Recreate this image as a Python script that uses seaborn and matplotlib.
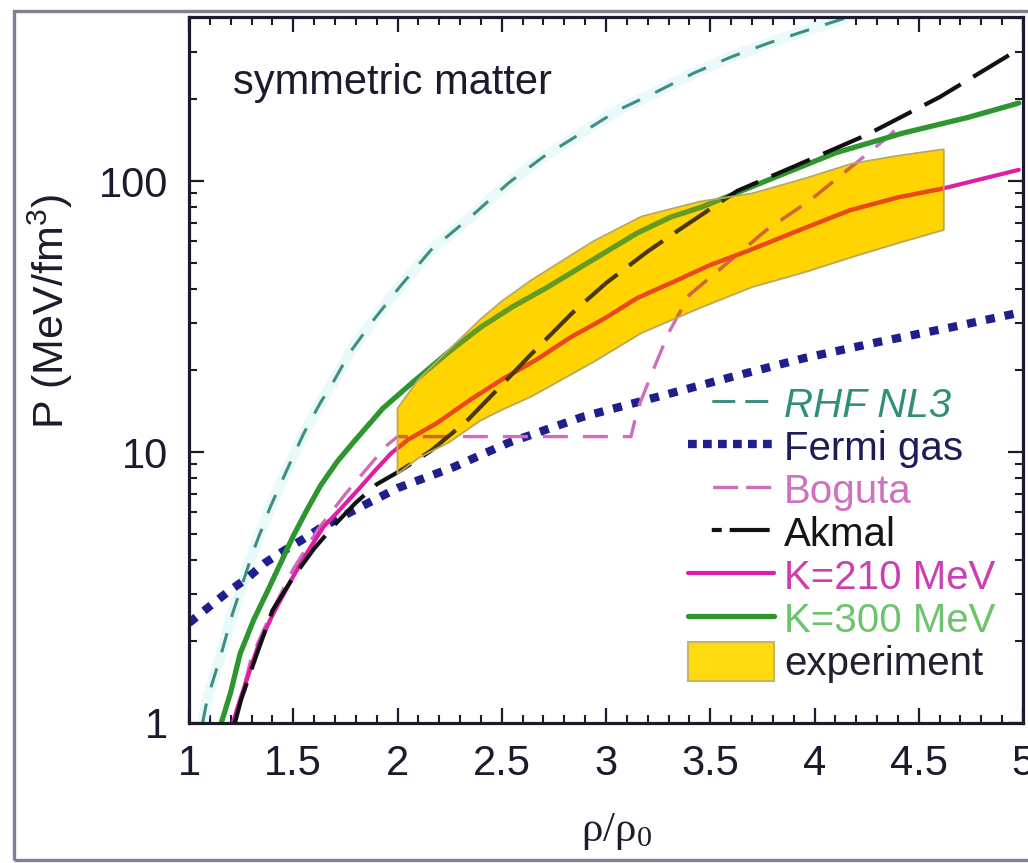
import matplotlib
matplotlib.use("Agg")
import matplotlib.pyplot as plt
import seaborn as sns
from matplotlib.lines import Line2D
from matplotlib.patches import Patch, Rectangle
from matplotlib.ticker import FixedLocator, MultipleLocator, LogLocator, NullFormatter

# ---------------- data ----------------
rhf_x = [1.065, 1.087, 1.15, 1.21, 1.31, 1.39, 1.47, 1.55, 1.63, 1.69, 1.77, 1.885,
         2.01, 2.16, 2.35, 2.53, 2.70, 2.88, 3.06, 3.23, 3.42, 3.60, 3.78, 3.97, 4.15]
rhf_y = [1.0, 1.22, 1.75, 2.55, 4.35, 6.27, 8.6, 11.7, 15.2, 18.0, 23.2, 30.7,
         40.6, 55.6, 73.6, 98, 123, 150, 183, 211, 250, 287, 323, 361, 400]

fermi_x = [1.0, 1.09, 1.18, 1.28, 1.365, 1.45, 1.54, 1.63, 1.81, 2.0, 2.27, 2.53,
           2.89, 3.25, 3.60, 3.95, 4.31, 4.66, 5.0]
fermi_y = [2.34, 2.66, 3.02, 3.43, 3.9, 4.3, 4.73, 5.24, 6.2, 7.36, 8.8, 10.8,
           13.5, 16.0, 18.9, 22.2, 25.5, 28.9, 32.9]

boguta_x = [1.22, 1.30, 1.40, 1.50, 1.62, 1.75, 1.87, 1.95, 2.0, 2.5, 3.12,
            3.15, 3.23, 3.30, 3.40, 3.77, 3.98, 4.14, 4.36, 4.42]
boguta_y = [1.0, 1.75, 2.6, 3.7, 5.2, 7.0, 9.0, 10.6, 11.4, 11.4, 11.4,
            14.3, 20.4, 27.5, 38.0, 66.0, 85, 107, 147, 165]

akmal_x = [1.22, 1.25, 1.32, 1.40, 1.50, 1.60, 1.70, 1.80, 1.90, 2.01, 2.16, 2.26,
           2.34, 2.51, 2.63, 2.84, 3.00, 3.20, 3.35, 3.63, 3.90, 4.25, 4.60, 4.96]
akmal_y = [1.0, 1.22, 1.75, 2.6, 3.45, 4.4, 5.4, 6.5, 7.6, 8.5, 10.1, 11.7,
           13.2, 18.0, 22.5, 32.7, 42, 55, 66, 92, 113, 148, 204, 300]

k210_x = [1.21, 1.245, 1.33, 1.40, 1.49, 1.57, 1.645, 1.73, 1.81, 1.89, 1.97, 2.05,
          2.19, 2.35, 2.50, 2.67, 2.83, 2.99, 3.15, 3.31, 3.50, 3.69, 3.93, 4.17,
          4.40, 4.62, 4.98]
k210_y = [1.0, 1.22, 1.91, 2.5, 3.37, 4.3, 5.29, 6.2, 7.24, 8.5, 9.9, 11.1,
          12.8, 15.6, 18.5, 22.0, 26.5, 31.0, 37.0, 42.0, 49.0, 55.6, 66.0, 78.0,
          87.0, 94.0, 110.0]

k300_x = [1.155, 1.20, 1.245, 1.31, 1.375, 1.44, 1.50, 1.565, 1.63, 1.71, 1.79, 1.93,
          2.07, 2.24, 2.40, 2.55, 2.72, 2.88, 3.15, 3.31, 3.46, 3.78, 4.10, 4.42,
          4.74, 4.98]
k300_y = [1.0, 1.3, 1.8, 2.4, 3.05, 3.9, 4.9, 6.1, 7.5, 9.2, 10.9, 14.5,
          18.0, 23.2, 28.9, 34.3, 40.6, 48.2, 64.3, 73.6, 80.2, 101, 127, 150,
          172, 194]

band_x = [2.0, 2.1, 2.25, 2.4, 2.5, 2.64, 2.72, 2.94, 3.17, 3.45, 3.7, 3.95, 4.18, 4.4, 4.62]
band_hi = [14.5, 18.5, 24, 31, 36, 43, 47, 60, 74, 84, 90, 102, 116, 124, 131]
band_lo = [8.3, 9.5, 10.9, 13.1, 14.3, 16, 17.3, 21.5, 27.5, 34, 40.6, 46, 52.4, 59, 66]

x_ticks = [1, 1.5, 2, 2.5, 3, 3.5, 4, 4.5, 5]
x_tick_labels = ["1", "1.5", "2", "2.5", "3", "3.5", "4", "4.5", "5"]
y_ticks = [1, 10, 100]
y_tick_labels = ["1", "10", "100"]

legend_labels = ["RHF NL3", "Fermi gas", "Boguta", "Akmal",
                 "K=210 MeV", "K=300 MeV", "experiment"]

# ---------------- style ----------------
sns.set_theme(style="ticks")
plt.rcParams["font.family"] = ["Liberation Sans", "DejaVu Sans"]
plt.rcParams["mathtext.default"] = "regular"

ink = "#1b1b2e"
c_rhf = "#3f8e82"
c_fermi = "#1e1e8c"
c_bog = "#cf6cbc"
c_akmal = "#111111"
c_k210 = "#dc1fa6"
c_k300 = "#2e962e"

fig = plt.figure(figsize=(10.28, 8.63), dpi=100)
fig.patch.set_facecolor("white")
ax = fig.add_axes([189 / 1028, 1 - 723 / 863, (1023 - 189) / 1028, (723 - 17) / 863])
ax.set_facecolor("white")
ax.set_yscale("log")

# faint cyan glow along the RHF curve
sns.lineplot(x=rhf_x, y=rhf_y, ax=ax, color="#eafafa", linewidth=8,
             estimator=None, sort=False, zorder=1)

# experimental band: solid base beneath the curves
band = ax.fill_between(band_x, band_lo, band_hi, color="#ffe400", lw=0, zorder=1.5)
band_path = band.get_paths()[0]

sns.lineplot(x=rhf_x, y=rhf_y, ax=ax, color=c_rhf, linewidth=2.2,
             linestyle=(0, (6.5, 5.5)), estimator=None, sort=False, zorder=2)
sns.lineplot(x=fermi_x, y=fermi_y, ax=ax, color=c_fermi, linewidth=6,
             linestyle=(0, (1.1, 1.2)), estimator=None, sort=False, zorder=2.2)
sns.lineplot(x=boguta_x, y=boguta_y, ax=ax, color=c_bog, linewidth=2.4,
             linestyle=(0, (7.5, 4.5)), estimator=None, sort=False, zorder=2.3)
sns.lineplot(x=k210_x, y=k210_y, ax=ax, color=c_k210, linewidth=3,
             estimator=None, sort=False, zorder=2.4)
sns.lineplot(x=k300_x, y=k300_y, ax=ax, color=c_k300, linewidth=3.8,
             estimator=None, sort=False, zorder=2.5)
sns.lineplot(x=akmal_x, y=akmal_y, ax=ax, color=c_akmal, linewidth=3,
             linestyle=(0, (10, 3.5)), estimator=None, sort=False, zorder=2.6)

# inside the band the magenta curves take a warmer, redder tint
sns.lineplot(x=k210_x, y=k210_y, ax=ax, color="#e82a1c", linewidth=3,
             estimator=None, sort=False, zorder=2.45)
ax.lines[-1].set_clip_path(band_path, transform=ax.transData)
sns.lineplot(x=boguta_x, y=boguta_y, ax=ax, color="#c8503c", linewidth=2.4,
             linestyle=(0, (7.5, 4.5)), estimator=None, sort=False, zorder=2.35)
ax.lines[-1].set_clip_path(band_path, transform=ax.transData)

# translucent wash over the curves inside the band, plus its outline
ax.fill_between(band_x, band_lo, band_hi, color="#ffa800", alpha=0.25, lw=0, zorder=4)
ax.fill_between(band_x, band_lo, band_hi, facecolor="none", edgecolor="#b9a862",
                lw=1.3, zorder=4.5)

# ---------------- axes ----------------
ax.set_xlim(1, 5)
ax.set_ylim(1, 403)
ax.xaxis.set_major_locator(FixedLocator(x_ticks))
ax.set_xticklabels(x_tick_labels)
ax.xaxis.set_minor_locator(MultipleLocator(0.1))
ax.yaxis.set_major_locator(FixedLocator(y_ticks))
ax.set_yticklabels(y_tick_labels)
ax.yaxis.set_minor_locator(LogLocator(base=10, subs=range(2, 10)))
ax.yaxis.set_minor_formatter(NullFormatter())

for side in ["left", "right", "top", "bottom"]:
    ax.spines[side].set_visible(True)
    ax.spines[side].set_color(ink)
    ax.spines[side].set_linewidth(2.3)

ax.tick_params(which="both", direction="in", top=True, right=True, color=ink,
               labelcolor=ink, labelsize=30)
ax.tick_params(which="major", length=11, width=1.6, pad=15)
ax.tick_params(which="minor", length=6, width=1.5)

ax.set_xlabel(r"ρ/ρ$_0$", fontsize=31, color=ink, family=["Liberation Serif", "DejaVu Serif"])
ax.set_ylabel(r"P (MeV/fm$^3$)", fontsize=31, color=ink)
ax.xaxis.set_label_coords(0.513, -0.125)
ax.yaxis.set_label_coords(-0.137, 0.583)

ax.text(0.053, 0.906, "symmetric matter", transform=ax.transAxes, fontsize=30,
        color=ink, ha="left", va="center")

# ---------------- legend ----------------
handles = [
    Line2D([], [], color=c_rhf, lw=2.2, linestyle=(18.3, (7.5, 3.3, 7.5, 7.8))),
    Line2D([], [], color=c_fermi, lw=6, linestyle=(0, (1.05, 0.75))),
    Line2D([], [], color=c_bog, lw=2.4, linestyle=(17.4, (7.5, 2.4, 7.5, 7.4))),
    Line2D([], [], color=c_akmal, lw=3, linestyle=(14.2, (2.4, 1.9, 9.6, 6.0))),
    Line2D([], [], color=c_k210, lw=3),
    Line2D([], [], color=c_k300, lw=3.8),
    Patch(facecolor="#ffda10", edgecolor="#c9b464", lw=1.5),
]
label_colors = ["#2f8f78", "#1c1c5a", "#d070c0", "#151515", "#cc3fb0", "#6cc46c", "#202030"]
leg = ax.legend(handles, legend_labels, loc="upper left",
                bbox_to_anchor=((688 - 189) / 834, (723 - 384) / 706),
                frameon=False, fontsize=29, labelcolor=label_colors,
                handlelength=2.13, handleheight=1.1, handletextpad=0.25,
                labelspacing=0.05, borderpad=0, borderaxespad=0)
leg.get_texts()[0].set_fontstyle("italic")
leg.set_zorder(6)

# outer frame of the figure panel
fig.add_artist(Rectangle((14 / 1028, 3 / 863), 1.2, (852 - 3) / 863,
                         transform=fig.transFigure, fill=False,
                         edgecolor="#7f7f95", lw=2.4, zorder=10))

fig.savefig("out.png", dpi=100, facecolor="white")
